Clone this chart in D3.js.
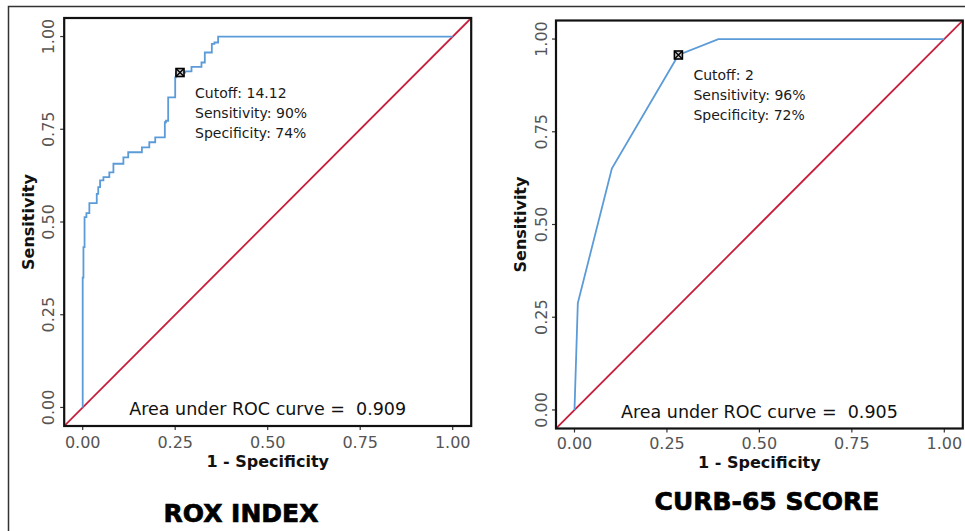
<!DOCTYPE html>
<html>
<head>
<meta charset="utf-8">
<script src="https://cdn.jsdelivr.net/npm/d3@7"></script>
<style>
  html, body { margin: 0; padding: 0; background: #fff; }
  svg { display: block; }
</style>
</head>
<body>
<svg id="chart" width="965" height="531"></svg>
<script>
/* ROC curves: ROX index vs CURB-65 score */

// ROX index — step curve corners (1 - specificity, sensitivity)
const roxFpr = [0.000, 0.000, 0.002, 0.005, 0.010, 0.018, 0.038, 0.042, 0.047, 0.056, 0.072, 0.083,
                0.110, 0.123, 0.160, 0.180, 0.196, 0.222, 0.225, 0.231, 0.250, 0.252, 0.277, 0.294,
                0.299, 0.321, 0.330, 0.349, 0.356, 0.366, 1.000];
const roxTpr = [0.000, 0.350, 0.432, 0.513, 0.524, 0.551, 0.576, 0.594, 0.612, 0.621, 0.634, 0.657,
                0.674, 0.688, 0.701, 0.715, 0.728, 0.769, 0.773, 0.836, 0.890, 0.903, 0.906, 0.918,
                0.918, 0.930, 0.957, 0.980, 0.984, 1.000, 1.000];

// CURB-65 score — polyline points
const curbFpr = [0.000, 0.009, 0.101, 0.281, 0.389, 1.000];
const curbTpr = [0.000, 0.288, 0.651, 0.957, 1.000, 1.000];

const ticks = [0, 0.25, 0.5, 0.75, 1];
const tickLabels = ['0.00', '0.25', '0.50', '0.75', '1.00'];

const panels = [
  { title: 'ROX INDEX', auc: '0.909', cutoff: '14.12', sens: '90%', spec: '74%',
    fpr: roxFpr, tpr: roxTpr, cut: [0.263, 0.903], step: true,
    box: { x0: 64.2, x1: 471.2, y0: 18, y1: 426 },
    yTickX: 48, yTitleX: 28, xTickY: 442, xTitleY: 461, titleX: 241, titleY: 522 },
  { title: 'CURB-65 SCORE', auc: '0.905', cutoff: '2', sens: '96%', spec: '72%',
    fpr: curbFpr, tpr: curbTpr, cut: [0.281, 0.957], step: false,
    box: { x0: 556, x1: 962.8, y0: 20.5, y1: 428.5 },
    yTickX: 541, yTitleX: 520, xTickY: 443.5, xTitleY: 462, titleX: 767, titleY: 510 }
];

const BLUE = '#5b9bd8';
const RED = '#c81e3c';
const FONT = '"DejaVu Sans", Verdana, sans-serif';

const svg = d3.select('#chart');

// outer frame (top and left edges visible)
svg.append('rect')
  .attr('x', 8.5).attr('y', 6.5)
  .attr('width', 1000).attr('height', 600)
  .attr('fill', 'none').attr('stroke', '#333').attr('stroke-width', 1.5);

panels.forEach((p, i) => {
  const b = p.box;
  const dom = [-0.05, 1.05];
  const x = d3.scaleLinear().domain(dom).range([b.x0, b.x1]);
  const y = d3.scaleLinear().domain(dom).range([b.y1, b.y0]);
  const g = svg.append('g');

  const clipId = 'clip' + i;
  svg.append('clipPath').attr('id', clipId).append('rect')
    .attr('x', b.x0).attr('y', b.y0).attr('width', b.x1 - b.x0).attr('height', b.y1 - b.y0);

  // ticks
  g.selectAll('.xt').data(ticks).join('line')
    .attr('x1', d => x(d)).attr('x2', d => x(d))
    .attr('y1', b.y1).attr('y2', b.y1 + 4)
    .attr('stroke', '#333').attr('stroke-width', 1.2);
  g.selectAll('.yt').data(ticks).join('line')
    .attr('y1', d => y(d)).attr('y2', d => y(d))
    .attr('x1', b.x0).attr('x2', b.x0 - 4)
    .attr('stroke', '#333').attr('stroke-width', 1.2);

  // tick labels
  g.selectAll('.xl').data(ticks).join('text')
    .attr('x', d => x(d)).attr('y', p.xTickY)
    .attr('dy', '0.36em')
    .attr('text-anchor', 'middle')
    .attr('font-family', FONT).attr('font-size', 16).attr('fill', '#555')
    .text((d, k) => tickLabels[k]);
  g.selectAll('.yl').data(ticks).join('text')
    .attr('transform', d => `translate(${p.yTickX},${y(d)}) rotate(-90)`)
    .attr('dy', '0.36em')
    .attr('text-anchor', 'middle')
    .attr('font-family', FONT).attr('font-size', 16).attr('fill', '#555')
    .text((d, k) => tickLabels[k]);

  // axis titles
  g.append('text')
    .attr('x', (b.x0 + b.x1) / 2).attr('y', p.xTitleY).attr('dy', '0.36em')
    .attr('text-anchor', 'middle')
    .attr('font-family', FONT).attr('font-size', 16).attr('font-weight', 'bold').attr('fill', '#111')
    .text('1 - Specificity');
  g.append('text')
    .attr('transform', `translate(${p.yTitleX},${(b.y0 + b.y1) / 2}) rotate(-90)`)
    .attr('dy', '0.36em')
    .attr('text-anchor', 'middle')
    .attr('font-family', FONT).attr('font-size', 16).attr('font-weight', 'bold').attr('fill', '#111')
    .text('Sensitivity');

  const inner = g.append('g').attr('clip-path', `url(#${clipId})`);

  // chance diagonal
  inner.append('path')
    .attr('d', d3.line()(dom.map(v => [x(v), y(v)])))
    .attr('fill', 'none').attr('stroke', RED).attr('stroke-width', 1.8);

  // ROC curve
  const pts = p.fpr.map((f, k) => [f, p.tpr[k]]);
  const line = d3.line().x(d => x(d[0])).y(d => y(d[1]))
    .curve(p.step ? d3.curveStepAfter : d3.curveLinear);
  inner.append('path')
    .attr('d', line(pts))
    .attr('fill', 'none').attr('stroke', BLUE).attr('stroke-width', 1.8);

  // cutoff marker (square with cross)
  const cx = x(p.cut[0]), cy = y(p.cut[1]), s = 4;
  const m = g.append('g');
  m.append('rect').attr('x', cx - s).attr('y', cy - s).attr('width', 2 * s).attr('height', 2 * s)
    .attr('fill', '#ccc').attr('stroke', '#000').attr('stroke-width', 1.6);
  m.append('path')
    .attr('d', `M${cx - s},${cy - s}L${cx + s},${cy + s}M${cx + s},${cy - s}L${cx - s},${cy + s}`)
    .attr('stroke', '#000').attr('stroke-width', 1.4);

  // cutoff annotation
  const ann = [`Cutoff: ${p.cutoff}`, `Sensitivity: ${p.sens}`, `Specificity: ${p.spec}`];
  g.selectAll('.ann').data(ann).join('text')
    .attr('x', cx + 15).attr('y', (d, k) => cy + 25 + k * 20)
    .attr('font-family', FONT).attr('font-size', 14).attr('fill', '#1a1a1a')
    .text(d => d);

  // AUC text
  g.append('text')
    .attr('x', (b.x0 + b.x1) / 2).attr('y', y(0) + 8)
    .attr('text-anchor', 'middle')
    .attr('font-family', FONT).attr('font-size', 17.5).attr('fill', '#111')
    .attr('xml:space', 'preserve').style('white-space', 'pre')
    .text(`Area under ROC curve =  ${p.auc}`);

  // panel border
  g.append('rect')
    .attr('x', b.x0).attr('y', b.y0).attr('width', b.x1 - b.x0).attr('height', b.y1 - b.y0)
    .attr('fill', 'none').attr('stroke', '#111').attr('stroke-width', 2.2);

  // panel title
  g.append('text')
    .attr('x', p.titleX).attr('y', p.titleY)
    .attr('text-anchor', 'middle')
    .attr('font-family', FONT).attr('font-size', 25).attr('font-weight', 'bold').attr('fill', '#000')
    .attr('stroke', '#000').attr('stroke-width', 0.7)
    .text(p.title);
});
</script>
</body>
</html>
